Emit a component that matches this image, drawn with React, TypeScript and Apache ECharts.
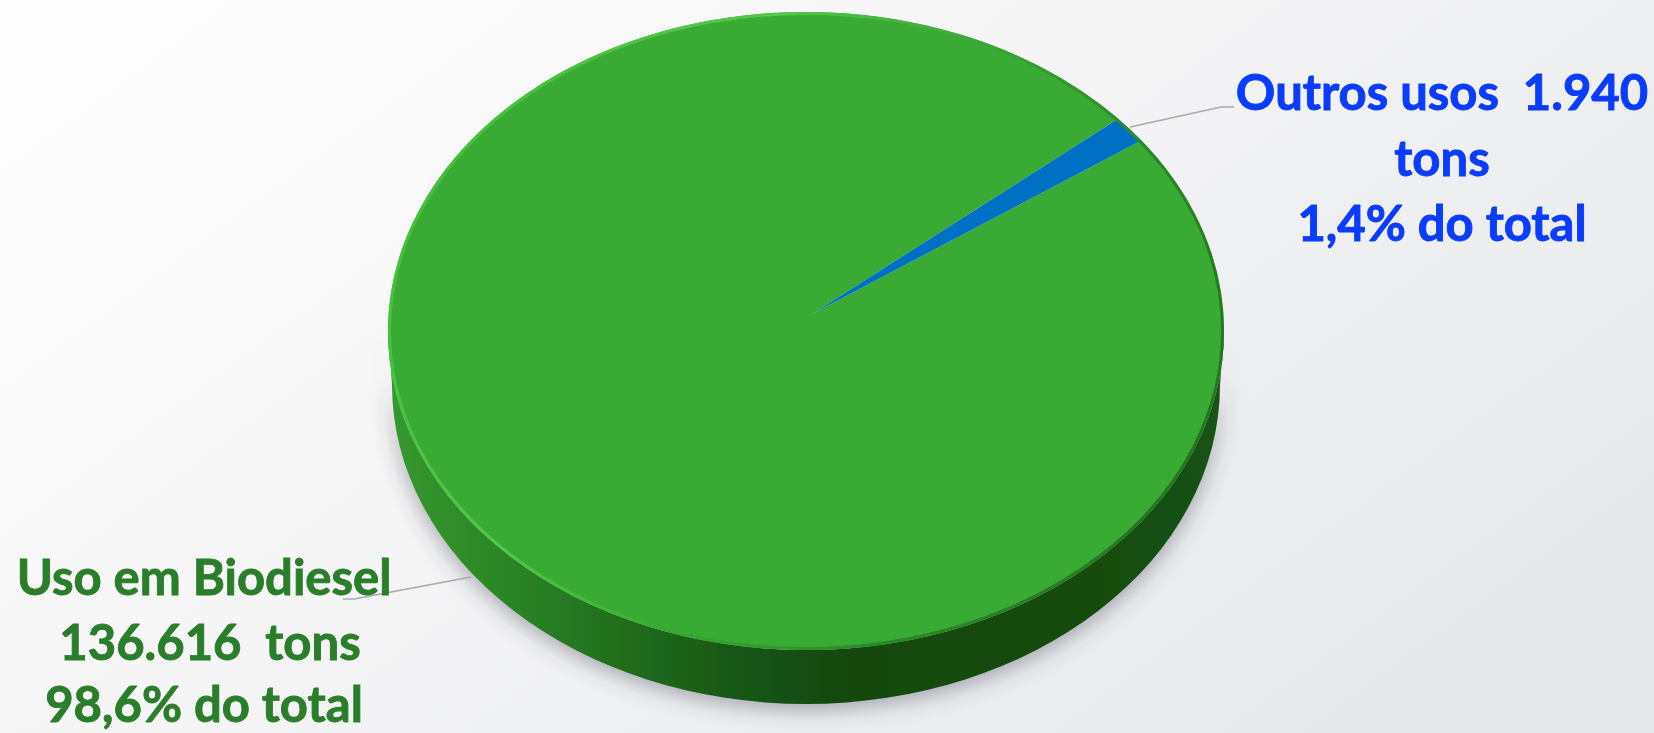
import React, { useEffect, useRef } from "react";
import * as echarts from "echarts";

const categories = ["Uso em Biodiesel", "Outros usos"];
const tons = [136616, 1940];
const rightLabel = ["Outros usos  1.940", "tons", "1,4% do total"];
const leftLabel = ["Uso em Biodiesel", "136.616  tons", "98,6% do total"];

const CX = 806;
const CY = 331;
const RX = 418;
const RY = 319;
const DEPTH = 54;
const APEX = { x: 812, y: 314 };
const BLUE_END_DEG = 41.7;

const pt = (deg: number) => {
  const t = (deg * Math.PI) / 180;
  return { x: CX + RX * Math.cos(t), y: CY - RY * Math.sin(t) };
};

const wallPath = () =>
  `M${CX - RX} ${CY} A${RX} ${RY} 0 0 0 ${CX + RX} ${CY} ` +
  `L${CX + RX - 4} ${CY + DEPTH} A${RX - 4} ${RY} 0 0 1 ${CX - RX + 4} ${CY + DEPTH} Z`;

const ellipsePath = (rx: number, ry: number) =>
  `M${CX - rx} ${CY} A${rx} ${ry} 0 1 1 ${CX + rx} ${CY} A${rx} ${ry} 0 1 1 ${CX - rx} ${CY} Z`;

const sweep = (v: number) => (v / (tons[0] + tons[1])) * 360;

const renderItem = (params: any, api: any) => {
  const i = params.dataIndex;
  const val = api.value(0);
  const a = sweep(val);
  // Outros usos runs clockwise from BLUE_END_DEG; Biodiesel takes the rest.
  const start = i === 1 ? BLUE_END_DEG : BLUE_END_DEG - sweep(tons[1]);
  const end = start - a;
  const p0 = pt(start);
  const p1 = pt(end);
  const large = a > 180 ? 1 : 0;
  const d = `M${APEX.x} ${APEX.y} L${p0.x} ${p0.y} A${RX} ${RY} 0 ${large} 1 ${p1.x} ${p1.y} Z`;
  const children: any[] = [];
  if (i === 0) {
    children.push({
      type: "path",
      shape: { pathData: wallPath() },
      style: {
        fill: {
          type: "linear", x: 0, y: 0, x2: 1, y2: 0,
          colorStops: [
            { offset: 0, color: "#37982f" },
            { offset: 0.14, color: "#2b8526" },
            { offset: 0.3, color: "#206a1c" },
            { offset: 0.42, color: "#185615" },
            { offset: 0.55, color: "#144710" },
            { offset: 0.8, color: "#164a10" },
            { offset: 1, color: "#1a5213" },
          ],
        },
        shadowBlur: 22,
        shadowColor: "rgba(60,65,80,0.45)",
        shadowOffsetY: 5,
      },
    });
  }
  children.push({
    type: "path",
    shape: { pathData: d },
    style: { fill: i === 0 ? "#39ab35" : "#0070c4" },
  });
  if (i === 1) {
    children.push({
      type: "path",
      shape: { pathData: ellipsePath(RX - 1.5, RY - 1.5) },
      style: {
        fill: "none",
        lineWidth: 3,
        stroke: {
          type: "linear", x: 0, y: 0.35, x2: 1, y2: 0.75,
          colorStops: [
            { offset: 0, color: "#46bf3d" },
            { offset: 0.28, color: "#52c94a" },
            { offset: 0.5, color: "#3aa835" },
            { offset: 0.72, color: "#2b8a28" },
            { offset: 1, color: "#246f1f" },
          ],
        },
      },
    });
  }
  return { type: "group", children };
};

const labelText = (text: string, x: number, y: number, fill: string) => ({
  type: "text",
  x,
  y,
  silent: true,
  z: 10,
  style: {
    text,
    fill,
    stroke: fill,
    lineWidth: 0.9,
    font: "bold 49px Lato, sans-serif",
    lineHeight: 49,
    align: "center",
    verticalAlign: "middle",
  },
});

export default function App() {
  const ref = useRef<HTMLDivElement>(null);
  useEffect(() => {
    document.body.style.margin = "0";
    const chart = echarts.init(ref.current!, null, { renderer: "svg" });
    chart.setOption({
      animation: false,
      backgroundColor: {
        type: "linear", x: 0, y: 0.2, x2: 1, y2: 0.8,
        colorStops: [
          { offset: 0, color: "#fdfdfd" },
          { offset: 0.4, color: "#f5f5f6" },
          { offset: 1, color: "#e5e7ea" },
        ],
      },
      series: [
        {
          type: "custom",
          coordinateSystem: "none",
          silent: true,
          data: categories.map((name, i) => ({ name, value: [tons[i]] })),
          renderItem,
        },
      ],
      graphic: [
        {
          type: "polyline", z: 5, silent: true,
          shape: { points: [[1130, 127], [1221, 107], [1234, 107]] },
          style: { fill: "none", stroke: "#a9a9a9", lineWidth: 1.5 },
        },
        {
          type: "polyline", z: 5, silent: true,
          shape: { points: [[471, 577], [354, 599], [343, 599]] },
          style: { fill: "none", stroke: "#a9a9a9", lineWidth: 1.5 },
        },
        labelText(rightLabel[0], 1442, 91, "#0a3cff"),
        labelText(rightLabel[1], 1442, 157, "#0a3cff"),
        labelText(rightLabel[2], 1442, 222, "#0a3cff"),
        labelText(leftLabel[0], 204, 576, "#2a7d2a"),
        labelText(leftLabel[1], 210, 641, "#2a7d2a"),
        labelText(leftLabel[2], 204, 703, "#2a7d2a"),
      ],
    });
    return () => chart.dispose();
  }, []);
  return <div ref={ref} style={{ width: 1654, height: 733 }} />;
}
